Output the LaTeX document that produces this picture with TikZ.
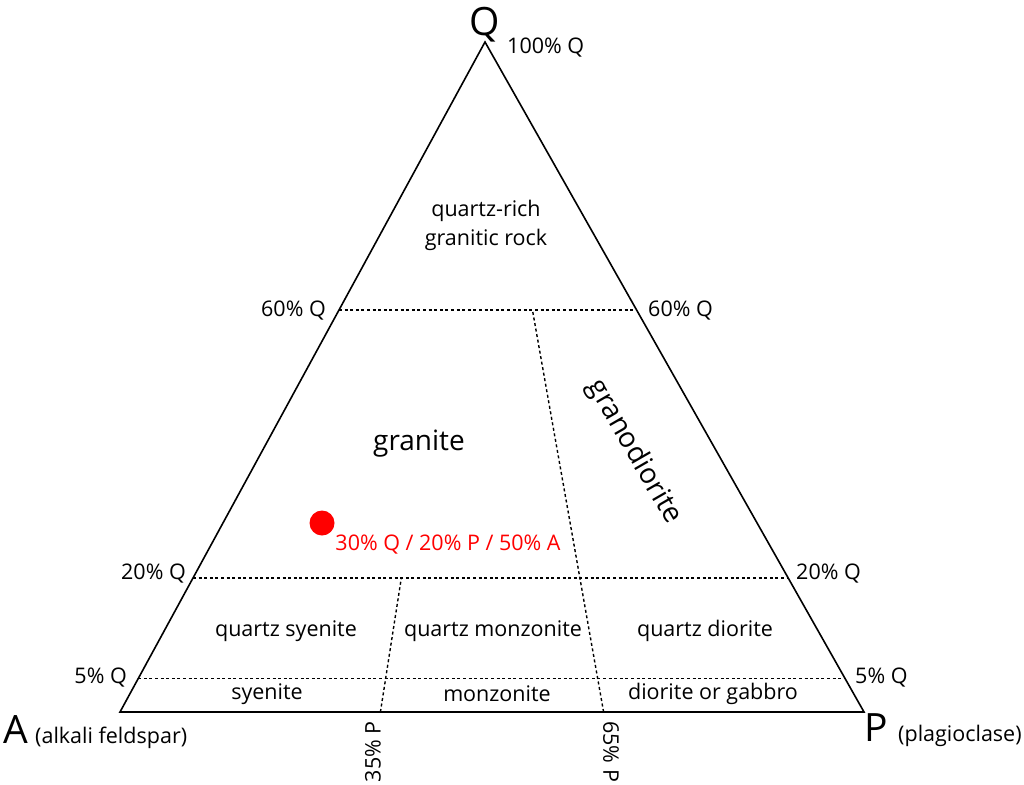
\documentclass[tikz,border=0pt]{standalone}
\usepackage{fontspec}
\setmainfont{Open Sans}
\usetikzlibrary{calc}
\definecolor{dotred}{RGB}{255,0,0}
\begin{document}
\begin{tikzpicture}[x=1pt,y=-1pt,
  edge/.style={line width=1.6pt, line join=miter},
  divider/.style={line width=1.4pt, dash pattern=on 3pt off 2.6pt},
  lbl/.style={font=\fontsize{21.5}{29}\selectfont, inner sep=0pt},
  bigtext/.style={font=\fontsize{28}{32}\selectfont, inner sep=0pt},
  corner/.style={font=\fontsize{39}{44}\selectfont, inner sep=0pt},
  redlbl/.style={lbl, text=dotred}]
\useasboundingbox (0,0) rectangle (1024,784);
% corners
\coordinate (A) at (120,712);
\coordinate (P) at (864,712);
\coordinate (Q) at (485,42);
% level lines
\coordinate (q60l) at ($(A)!0.6!(Q)$);
\coordinate (q60r) at ($(P)!0.6!(Q)$);
\coordinate (q20l) at ($(A)!0.2!(Q)$);
\coordinate (q20r) at ($(P)!0.2!(Q)$);
\coordinate (q05l) at ($(A)!0.05!(Q)$);
\coordinate (q05r) at ($(P)!0.05!(Q)$);
\coordinate (p35b) at ($(A)!0.35!(P)$);
\coordinate (p35t) at ($(p35b)!0.2!(Q)$);
\coordinate (p65b) at ($(A)!0.65!(P)$);
\coordinate (p65t) at ($(p65b)!0.6!(Q)$);
% dividers
\draw[divider] (q60l) -- (q60r);
\draw[divider] (q20l) -- (q20r);
\draw[divider] (q05l) -- (q05r);
\draw[divider] (p35b) -- (p35t);
\draw[divider] (p65b) -- (p65t);
% triangle
\draw[edge] (A) -- (P) -- (Q) -- cycle;
% corner labels
\node[corner, anchor=base] (qlabel) at (485,36) {Q};
\node[lbl, anchor=base west] (q100) at (507,53) {100\% Q};
\node[corner, anchor=base west] (alabel) at (3,743) {A};
\node[lbl, anchor=base west] (aname) at (35,743) {(alkali feldspar)};
\node[corner, anchor=base west] (plabel) at (864,741) {P};
\node[lbl, anchor=base west] (pname) at (898,741) {(plagioclase)};
% level labels
\node[lbl, anchor=east] (l60l) at (326,311) {60\% Q};
\node[lbl, anchor=west] (l60r) at (648,311) {60\% Q};
\node[lbl, anchor=east] (l20l) at (186,574) {20\% Q};
\node[lbl, anchor=west] (l20r) at (796,574) {20\% Q};
\node[lbl, anchor=east] (l05l) at (127,678) {5\% Q};
\node[lbl, anchor=west] (l05r) at (855,678) {5\% Q};
\node[lbl, rotate=90, anchor=east] (l35) at (373,721) {35\% P};
\node[lbl, rotate=-90, anchor=west] (l65) at (611,721) {65\% P};
% field names
\node[lbl, align=center] (qrich) at (486,225) {quartz-rich\\granitic rock};
\node[bigtext] (granite) at (419,444) {granite};
\node[bigtext, rotate=-60] (grano) at (634,452) {granodiorite};
\node[lbl] (qsy) at (286,631) {quartz syenite};
\node[lbl] (qmz) at (493,631) {quartz monzonite};
\node[lbl] (qdi) at (705,631) {quartz diorite};
\node[lbl] (sy) at (267,694) {syenite};
\node[lbl] (mz) at (497,694) {monzonite};
\node[lbl] (dg) at (713,694) {diorite or gabbro};
% sample point
\fill[dotred] (322,523) circle[radius=12.5] coordinate (dot);
\node[redlbl] (dotlbl) at (448,545) {30\% Q / 20\% P / 50\% A};
\end{tikzpicture}
\end{document}
